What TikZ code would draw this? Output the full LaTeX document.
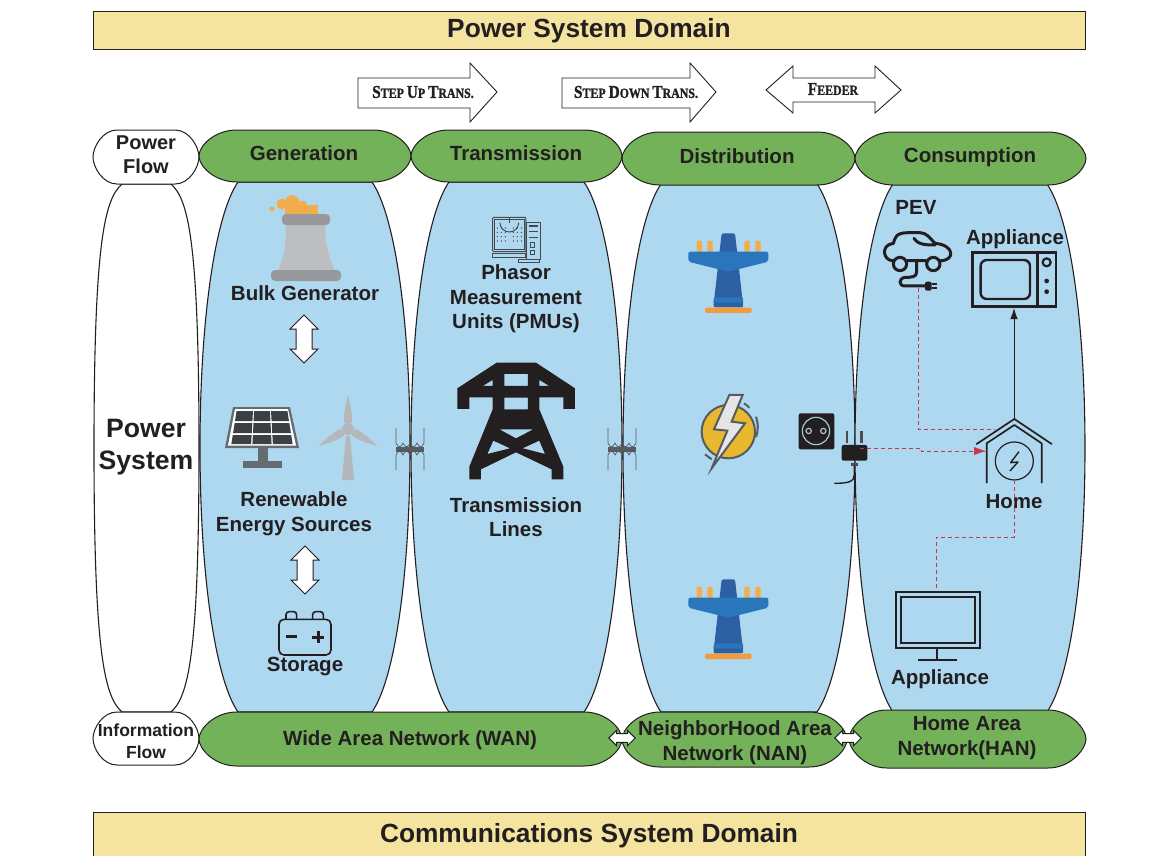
\documentclass[tikz,border=0pt]{standalone}
\usepackage{fontspec}
\usepackage{graphicx}
\setmainfont{Liberation Sans}
\newfontfamily\slabfont[BoldFeatures={FakeBold=1.5}]{Liberation Serif}
\usetikzlibrary{arrows.meta,positioning}

\definecolor{inkblack}{HTML}{231F20}
\definecolor{domainyellow}{HTML}{F5E3A0}
\definecolor{flowgreen}{HTML}{74B25A}
\definecolor{columnblue}{HTML}{AED8F0}
\definecolor{linkred}{HTML}{C8374A}
\definecolor{slategrey}{HTML}{555B62}
\definecolor{towergrey}{HTML}{BCBEC0}
\definecolor{capgrey}{HTML}{97999C}
\definecolor{turbinegrey}{HTML}{B4B8BB}
\definecolor{pylondark}{HTML}{2D5FA3}
\definecolor{pylonmid}{HTML}{2A76BC}
\definecolor{pylonorange}{HTML}{F39A3C}
\definecolor{pegorange}{HTML}{F2AE4A}
\definecolor{boltyellow}{HTML}{E8B92F}

% column or pill with tapered ends: style, x1, y1, x2, y2, control heights, inset
\newcommand{\lensbox}[8]{%
  \pgfmathsetmacro{\ymid}{(#3+#5)/2}
  \pgfmathsetmacro{\ctrlx}{#8*0.4}
  \draw[#1] ({#2+#8},#3) -- ({#4-#8},#3)
    .. controls ({#4-\ctrlx},{#3+#6}) and (#4,{\ymid-#7}) .. (#4,\ymid)
    .. controls (#4,{\ymid+#7}) and ({#4-\ctrlx},{#5-#6}) .. ({#4-#8},#5)
    -- ({#2+#8},#5)
    .. controls ({#2+\ctrlx},{#5-#6}) and (#2,{\ymid+#7}) .. (#2,\ymid)
    .. controls (#2,{\ymid-#7}) and ({#2+\ctrlx},{#3+#6}) .. cycle;}
\newcommand{\capfirst}[1]{{\fontsize{18}{18}\selectfont #1}}

\tikzset{
  domainbar/.style={draw=inkblack,fill=domainyellow,line width=1pt,minimum width=992pt},
  domaintext/.style={font=\fontsize{26.3}{30}\selectfont\bfseries,text=inkblack,inner sep=0pt},
  colshape/.style={draw=inkblack,line width=1.1pt,fill=columnblue},
  whitepill/.style={draw=inkblack,line width=1pt,fill=white},
  greenpill/.style={draw=inkblack,line width=1pt,fill=flowgreen},
  label/.style={font=\fontsize{20.5}{24.6}\selectfont\bfseries,text=inkblack,align=center,inner sep=0pt},
  smalllabel/.style={label,font=\fontsize{18.5}{22}\selectfont\bfseries},
  trans/.style={font=\fontsize{14}{14}\selectfont\slabfont\bfseries,text=inkblack,inner sep=0pt},
  bannerarrow/.style={draw=inkblack,line width=0.9pt,fill=white},
  redlink/.style={draw=linkred,line width=1pt,dash pattern=on 4pt off 3pt},
  dblarrow/.pic={
    \draw[inkblack,line width=1pt,fill=white] (0,-24) -- (14,-10) -- (8,-10) -- (8,10) -- (14,10)
      -- (0,24) -- (-14,10) -- (-8,10) -- (-8,-10) -- (-14,-10) -- cycle;
  },
  transformer/.pic={
    \foreach \s in {1,-1}{
      \draw[slategrey,line width=0.7pt] (-14,{\s*21}) -- (-14,{\s*6})
        foreach \a in {-14,-7,0,7}{ .. controls ({\a+2},{\s*1}) and ({\a+5},{\s*1}) .. ({\a+7},{\s*6}) }
        -- (14,{\s*21});
    }
    \fill[slategrey] (-14,-2.5) rectangle (14,2.5);
  },
  pylon/.pic={
    \foreach \px in {80,112,223,256}{
      \fill[pegorange,rounded corners=2pt] (\px,62) rectangle ({\px+16},110);
    }
    \fill[pylondark,rounded corners=1.5pt] (155,40) -- (195,40) -- (203,110) -- (220,262) -- (130,262) -- (147,110) -- cycle;
    \fill[pylonmid,rounded corners=2pt] (55,95) -- (295,95) -- (295,125) -- (175,155) -- (55,125) -- cycle;
    \fill[pylonmid] (132,232) -- (218,232) -- (220,248) -- (130,248) -- cycle;
    \fill[pylonorange,rounded corners=2pt] (105,263) rectangle (245,279);
  }
}

\begin{document}
\begin{tikzpicture}[x=1pt,y=-1pt]
  \useasboundingbox (0,0) rectangle (1165,855);
  \fill[white] (0,0) rectangle (1165,855);
  % Domain bars
  \node[domainbar,minimum height=38pt] (powerdomain) at (589,30) {};
  \node[domaintext] (powerlabel) at (589,31) {Power System Domain};
  \node[domainbar,minimum height=48pt] (commdomain) at (589,836) {};
  \node[domaintext] (commlabel) at (589,836) {Communications System Domain};
  % Arrows along the top
  \draw[bannerarrow] (358,78) -- (470,78) -- (470,63) -- (497,92) -- (470,122) -- (470,108) -- (358,108) -- cycle;
  \node[trans] (stepup) at (423,92) {\scalebox{0.85}[1]{\capfirst{S}TEP \capfirst{U}P \capfirst{T}RANS.}};
  \draw[bannerarrow] (562,78) -- (690,78) -- (690,63) -- (716,92) -- (690,122) -- (690,108) -- (562,108) -- cycle;
  \node[trans] (stepdown) at (636,92) {\scalebox{0.85}[1]{\capfirst{S}TEP \capfirst{D}OWN \capfirst{T}RANS.}};
  \draw[bannerarrow] (766,90) -- (793,66) -- (793,78) -- (875,78) -- (875,66) -- (901,90) -- (875,113) -- (875,102) -- (793,102) -- (793,113) -- cycle;
  \node[trans] (feeder) at (833,89) {\scalebox{0.85}[1]{\capfirst{F}EEDER}};
  % Columns
  \lensbox{draw=inkblack,line width=1.1pt,fill=white}{94}{184}{199}{712}{15}{210}{28}
  \lensbox{colshape}{200}{182}{410}{712}{33}{128}{38}
  \lensbox{colshape}{411}{182}{622}{712}{33}{128}{38}
  \lensbox{colshape}{623}{184}{855}{712}{33}{128}{38}
  \lensbox{colshape}{855}{184}{1085}{712}{33}{128}{38}
  % Flow pills
  \lensbox{whitepill}{93}{130}{199}{184}{0}{10}{24}
  \lensbox{whitepill}{93}{712}{199}{765}{0}{10}{24}
  \lensbox{greenpill}{199}{130}{411}{182}{0}{10}{38}
  \lensbox{greenpill}{411}{130}{622}{182}{0}{10}{38}
  \lensbox{greenpill}{622}{132}{855}{185}{0}{10}{38}
  \lensbox{greenpill}{855}{132}{1086}{185}{0}{10}{38}
  \lensbox{greenpill}{199}{712}{622}{766}{0}{10}{38}
  \lensbox{greenpill}{622}{712}{847}{767}{0}{10}{38}
  \lensbox{greenpill}{849}{710}{1086}{768}{0}{10}{38}
  % Flow labels
  \node[smalllabel,font=\fontsize{20}{24}\selectfont\bfseries] (powerflow) at (146,155) {Power\\Flow};
  \node[smalllabel,font=\fontsize{17.5}{22}\selectfont\bfseries] (infoflow) at (146,741) {Information\\Flow};
  \node[label,font=\fontsize{26.6}{32}\selectfont\bfseries] (powersystem) at (146,447) {Power\\System};
  \node[label] (generation) at (304,153) {Generation};
  \node[label] (transmission) at (516,153) {Transmission};
  \node[label] (distribution) at (737,156) {Distribution};
  \node[label] (consumption) at (970,157) {Consumption};
  \node[label] (wan) at (410,740) {Wide Area Network (WAN)};
  \node[label,font=\fontsize{20.5}{25}\selectfont\bfseries] (nan) at (735,743) {NeighborHood Area\\Network (NAN)};
  \node[label,font=\fontsize{20.5}{25}\selectfont\bfseries] (han) at (967,738) {Home Area\\Network(HAN)};
  \pic[rotate=90,scale=0.55] at (622,738) {dblarrow};
  \pic[rotate=90,scale=0.55] at (848,738) {dblarrow};
  % Generation column: cooling tower
  \foreach \sx/\sy/\sr in {272/209/2.5,282/204/5.5,292/202/7,302/206/5.5,312/211/6}{
    \fill[pegorange] (\sx,\sy) circle (\sr);
  }
  \fill[pegorange] (285,205) rectangle (318,216);
  \fill[towergrey] (286,224) -- (325,224) .. controls (325,245) and (329,258) .. (335,271) -- (278,271) .. controls (284,258) and (286,245) .. cycle;
  \fill[capgrey,rounded corners=4pt] (282,214) rectangle (330,225);
  \fill[capgrey,rounded corners=4pt] (271,270) rectangle (341,281);
  \node[label] (bulkgen) at (305,293) {Bulk Generator};
  \pic at (304,339) {dblarrow};
  % Solar panel
  \fill[slategrey!90] (233,407) -- (290,407) -- (299,448) -- (225,448) -- cycle;
  \fill[slategrey!90] (258,448) rectangle (268,461);
  \fill[slategrey!90] (243,461) rectangle (282,468);
  \fill[white] (235,409) -- (288,409) -- (296,445.5) -- (228,445.5) -- cycle;
  \foreach \ya/\yb in {411/421,423/433,435/444}{
    \foreach \ua/\ub in {-0.93/-0.33,-0.29/0.29,0.33/0.93}{
      \fill[slategrey!70!black] ({262+\ua*(27+(\ya-409)*0.17)},\ya) -- ({262+\ub*(27+(\ya-409)*0.17)},\ya)
        -- ({262+\ub*(27+(\yb-409)*0.17)},\yb) -- ({262+\ua*(27+(\yb-409)*0.17)},\yb) -- cycle;
    }
  }
  % Wind turbine
  \fill[turbinegrey] (346,436) -- (350,436) -- (354,480) -- (342,480) -- cycle;
  \foreach \r in {0,120,240}{
    \fill[turbinegrey,shift={(348,429)},rotate=\r] (0,-34) .. controls (3,-22) and (5,-12) .. (3.5,-6) -- (-3.5,-6) .. controls (-5,-12) and (-3,-22) .. cycle;
  }
  \fill[turbinegrey] (348,429) circle (6);
  \node[label] (renewable) at (294,514) {Renewable\\Energy Sources};
  \pic at (305,570) {dblarrow};
  % Battery
  \begin{scope}[shift={(250,530)},scale=0.3333]
    \draw[inkblack,line width=1.6pt,rounded corners=3pt] (108,268) -- (108,245) -- (140,245) -- (140,268) (188,268) -- (188,245) -- (220,245) -- (220,268);
    \draw[inkblack,line width=1.6pt,rounded corners=5pt] (87,268) rectangle (243,375);
    \draw[inkblack,line width=2.4pt] (108,320) -- (140,320) (187,322) -- (223,322) (205,304) -- (205,340);
  \end{scope}
  \node[label] (storage) at (305,667) {Storage};
  \pic at (410,449) {transformer};
  \pic at (622,449) {transformer};
  % Transmission column: PMU and tower
  \begin{scope}[shift={(400,200)},scale=0.3333]
    \draw[slategrey!80!black,line width=1pt,rounded corners=1pt] (278,52) rectangle (378,155);
    \draw[slategrey!80!black,line width=0.8pt] (283,58) rectangle (372,148);
    \draw[slategrey!80!black,line width=1pt] (300,68) arc (180:0:28);
    \draw[slategrey!80!black,line width=1pt] (328,68) -- (328,50);
    \draw[slategrey!80!black,line width=1.2pt] (380,68) rectangle (422,178);
    \draw[slategrey!80!black,line width=1.6pt] (388,78) -- (415,78) (388,95) -- (415,95) (388,112) -- (415,112);
    \draw[slategrey!80!black,line width=0.8pt] (390,128) rectangle (404,142) (390,150) rectangle (404,164);
    \draw[slategrey!80!black,line width=1pt] (278,160) rectangle (378,172) (355,178) rectangle (420,188);
    \foreach \dx in {292,304,316,340,352,364}{
      \foreach \dy in {84,97,110,123}{
        \fill[slategrey!80!black] (\dx,\dy) circle (2.2);
      }
    }
    \fill[inkblack,even odd rule] (290,488) -- (408,488) -- (525,565) -- (525,627) -- (490,627) -- (490,592) -- (418,592)
      -- (418,628) -- (490,800) -- (490,838) -- (455,838) -- (455,808) -- (348,757) -- (243,808) -- (243,838)
      -- (208,838) -- (208,800) -- (278,628) -- (278,592) -- (208,592) -- (208,627) -- (172,627) -- (172,565) -- cycle
      (313,522) rectangle (384,558) (313,593) rectangle (384,628)
      (278,540) -- (278,558) -- (248,558) -- cycle (418,540) -- (418,558) -- (448,558) -- cycle
      (298,688) -- (400,688) -- (348,715) -- cycle
      (280,722) -- (262,762) -- (330,745) -- cycle (418,722) -- (435,762) -- (368,745) -- cycle;
  \end{scope}
  \node[label] (phasor) at (516,299) {Phasor\\Measurement\\Units (PMUs)};
  \node[label] (lines) at (516,517) {Transmission\\Lines};
  % Distribution column
  \pic[scale=0.3333] at (670,220) {pylon};
  \pic[scale=0.3333] at (670,566) {pylon};
  \begin{scope}[shift={(670,220)},scale=0.3333]
    \draw[slategrey,line width=2pt,fill=boltyellow] (175,635) circle (80);
    \draw[slategrey,line width=2pt,fill=white!90!black] (178,525) -- (132,628) -- (172,632) -- (125,745) -- (225,610) -- (185,605) -- (218,525) -- cycle;
    \draw[slategrey,line width=2pt] (222,550) arc (-60:-40:60) (258,590) arc (-20:20:90) (105,703) -- (125,718);
    \fill[inkblack,rounded corners=2pt] (386,580) rectangle (493,688);
    \draw[columnblue!80!gray,line width=1.2pt] (438,633) circle (41) (416,633) circle (8) (460,633) circle (8);
    \fill[inkblack,rounded corners=2pt] (515,675) rectangle (592,722);
    \fill[inkblack!80] (527,632) rectangle (535,668);
    \fill[inkblack!80] (571,632) rectangle (579,668);
    \fill[inkblack!80] (543,730) rectangle (565,737);
    \draw[inkblack,line width=1.4pt] (553,737) -- (553,765) .. controls (553,785) and (535,790) .. (493,790);
  \end{scope}
  % Consumption column: icons
  \node[label] (pev) at (916,207) {PEV};
  \begin{scope}[shift={(870,190)},scale=0.3333]
    \draw[inkblack,line width=3pt,line cap=round,line join=round]
      (68,212) .. controls (40,212) and (30,165) .. (70,160) .. controls (80,125) and (90,128) .. (150,128)
      .. controls (170,128) and (180,145) .. (195,160) .. controls (255,165) and (255,212) .. (212,212)
      (112,212) -- (168,212) (132,145) .. controls (145,165) and (170,165) .. (195,165)
      (90,222) circle (20) (190,222) circle (20)
      (140,212) -- (140,245) .. controls (140,262) and (125,262) .. (105,262) .. controls (85,265) and (85,288) .. (105,288) -- (165,288);
    \fill[inkblack,rounded corners=2pt] (165,275) rectangle (185,302);
    \fill[inkblack] (185,279) rectangle (200,284);
    \fill[inkblack] (185,292) rectangle (200,297);
    % Microwave
    \draw[inkblack,line width=2.6pt] (308,187) rectangle (558,350) (502,187) -- (502,350);
    \draw[inkblack,line width=2.4pt,rounded corners=6pt] (332,210) rectangle (480,327);
    \draw[inkblack,line width=2.2pt] (530,217) circle (12);
    \fill[inkblack] (530,273) circle (7);
    \fill[inkblack] (530,305) circle (7);
    % House
    \draw[inkblack,line width=1.7pt,line cap=round,line join=round] (320,762) -- (433,687) -- (545,762);
    \draw[inkblack,line width=1.7pt,line cap=round,line join=round] (350,878) -- (350,760) -- (433,705) -- (515,760) -- (515,878);
    \draw[inkblack,line width=1.2pt] (433,813) circle (57);
    \draw[inkblack,line width=1.4pt,line join=round] (447,785) -- (422,818) -- (444,816) -- (420,843);
  \end{scope}
  \node[label] (appliancetop) at (1015,239) {Appliance};
  % Lower appliance
  \draw[inkblack,line width=2.2pt] (896,592) rectangle (980,648);
  \draw[inkblack,line width=1.4pt] (901,597) rectangle (975,643) (937,648) -- (937,660) (918,660) -- (957,660);
  \node[label] (appliancelow) at (940,679) {Appliance};
  \node[label] (home) at (1014,502) {Home};
  % Links between the icons
  \coordinate (pevplug) at (918,288);
  \coordinate (homeroof) at (995,429);
  \coordinate (plugout) at (860,448);
  \coordinate (plugbend) at (921,448);
  \coordinate (plugbendb) at (921,451);
  \coordinate (homewall) at (985,451);
  \coordinate (roofpeak) at (1014,419);
  \coordinate (ovenbase) at (1014,308);
  \coordinate (homebase) at (1014,480);
  \coordinate (homedrop) at (1014,537);
  \coordinate (tvtop) at (936,590);
  \draw[redlink] (pevplug) |- (homeroof);
  \draw[redlink] (plugout) -- (plugbend) -- (plugbendb) -- (homewall);
  \fill[linkred] (homewall) -- ++(-11,-4) -- ++(0,8) -- cycle;
  \draw[inkblack,line width=0.9pt,-{Latex[length=11pt,width=7.5pt]}] (roofpeak) -- (ovenbase);
  \draw[redlink] (homebase) -- (homedrop) -| (tvtop);
\end{tikzpicture}
\end{document}
